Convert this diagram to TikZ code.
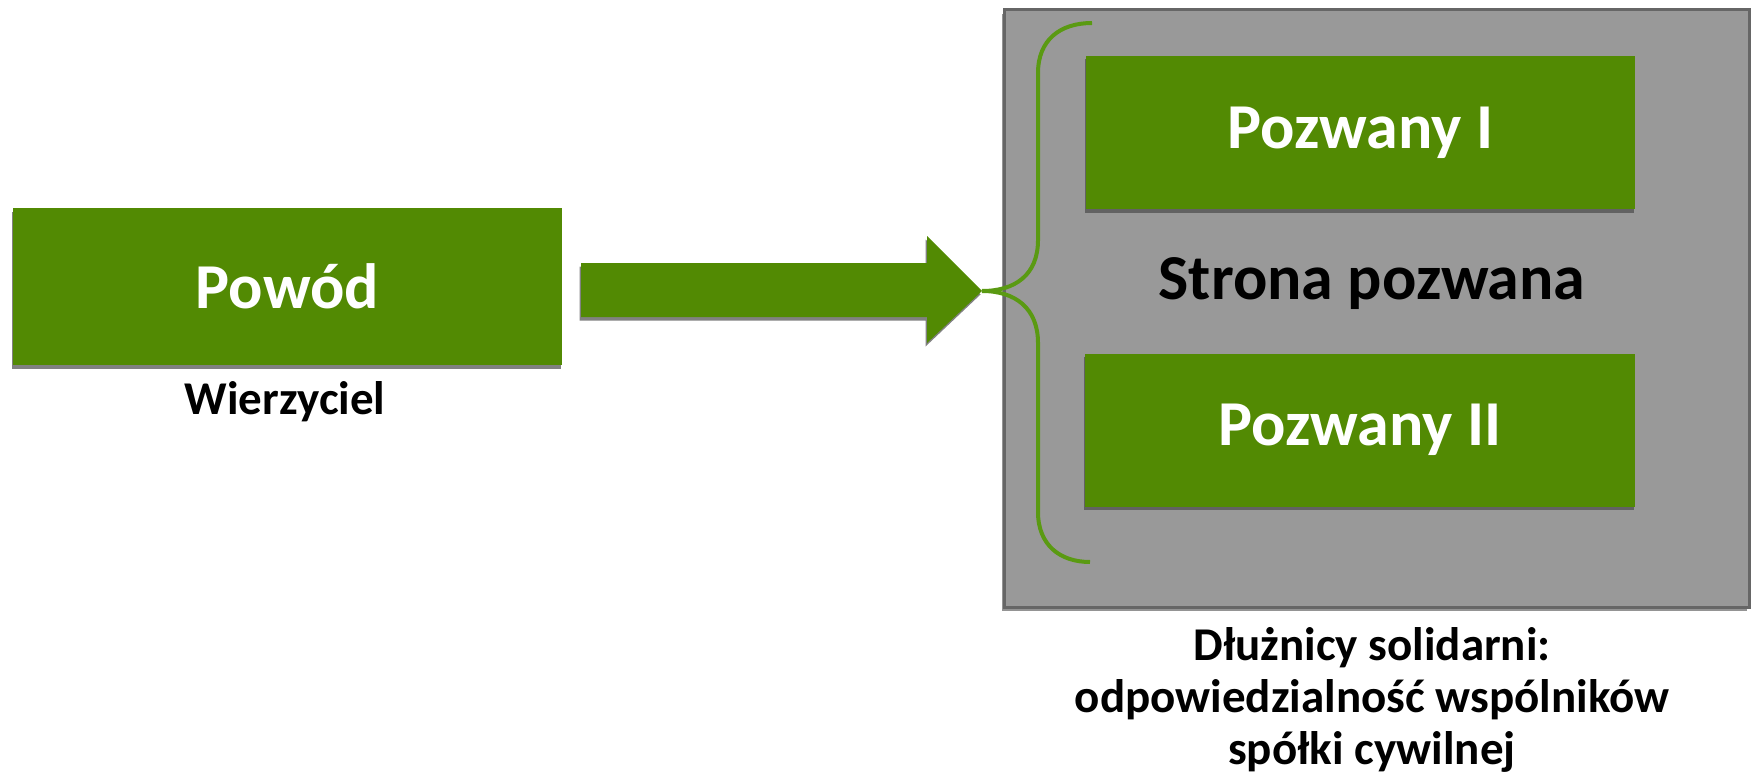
\documentclass[tikz,border=0pt]{standalone}
\usepackage{fontspec}
\setmainfont{Carlito}
\usetikzlibrary{shadows,calc}
\definecolor{grn}{HTML}{528A03}
\definecolor{boxgray}{HTML}{999999}
\definecolor{bracegrn}{HTML}{5A9A12}
\tikzset{
  boxshadow/.style={drop shadow={shadow xshift=-1.5pt, shadow yshift=-3.5pt, opacity=.7, fill=black!70}},
  greenbox/.style={fill=grn, text=white, inner sep=0pt,
    font=\bfseries\fontsize{64}{64}\selectfont, boxshadow},
  caption/.style={text=black, align=center, inner sep=0pt,
    font=\bfseries\fontsize{47}{52}\selectfont},
  panel/.style={fill=boxgray, draw=black!60, line width=3pt,
    drop shadow={shadow xshift=-2pt, shadow yshift=-4pt, opacity=.6, fill=black!70}},
  bracepath/.style={draw=bracegrn, line width=4pt},
  bigarrow/.style={fill=grn, boxshadow}
}
\begin{document}
\begin{tikzpicture}[x=1pt,y=-1pt]
\useasboundingbox (0,0) rectangle (1752,776);
% left
\node[greenbox, minimum width=549pt, minimum height=157pt] (powod) at (287.5,286.5) {Powód};
\node[caption] (wierz) at (285,402) {Wierzyciel};
% right panel
\node[panel, minimum width=745pt, minimum height=597pt] (panel) at (1376.5,308.5) {};
\node[greenbox, minimum width=549pt, minimum height=153pt] (p1) at (1360.5,132.5) {Pozwany I};
\node[greenbox, minimum width=550pt, minimum height=153pt] (p2) at (1360,430) {Pozwany II};
\node[text=black, inner sep=0pt, font=\bfseries\fontsize{64}{64}\selectfont] (strona) at (1372,284) {Strona pozwana};
\node[caption] (dluz) at (1372,700) {Dłużnicy solidarni:\\odpowiedzialność wspólników\\spółki cywilnej};
% brace
\coordinate (tip) at (982,291);
\coordinate (btop) at (1092,23);
\coordinate (bbot) at (1090,562);
\coordinate (astart) at (581,290);
% arrow
\path[bigarrow] ($(astart)+(0,-27)$) -- (927,263) -- (927,236) -- (tip) -- (927,343) -- (927,317) -- ($(astart)+(0,27)$) -- cycle;
\draw[bracepath] (btop) .. controls (1060,23) and (1038,40) .. (1038,73) -- (1038,240)
  .. controls (1038,275) and (1015,291) .. (tip)
  .. controls (1015,291) and (1038,308) .. (1038,343) -- (1038,512)
  .. controls (1038,545) and (1060,562) .. (bbot);
\end{tikzpicture}
\end{document}
